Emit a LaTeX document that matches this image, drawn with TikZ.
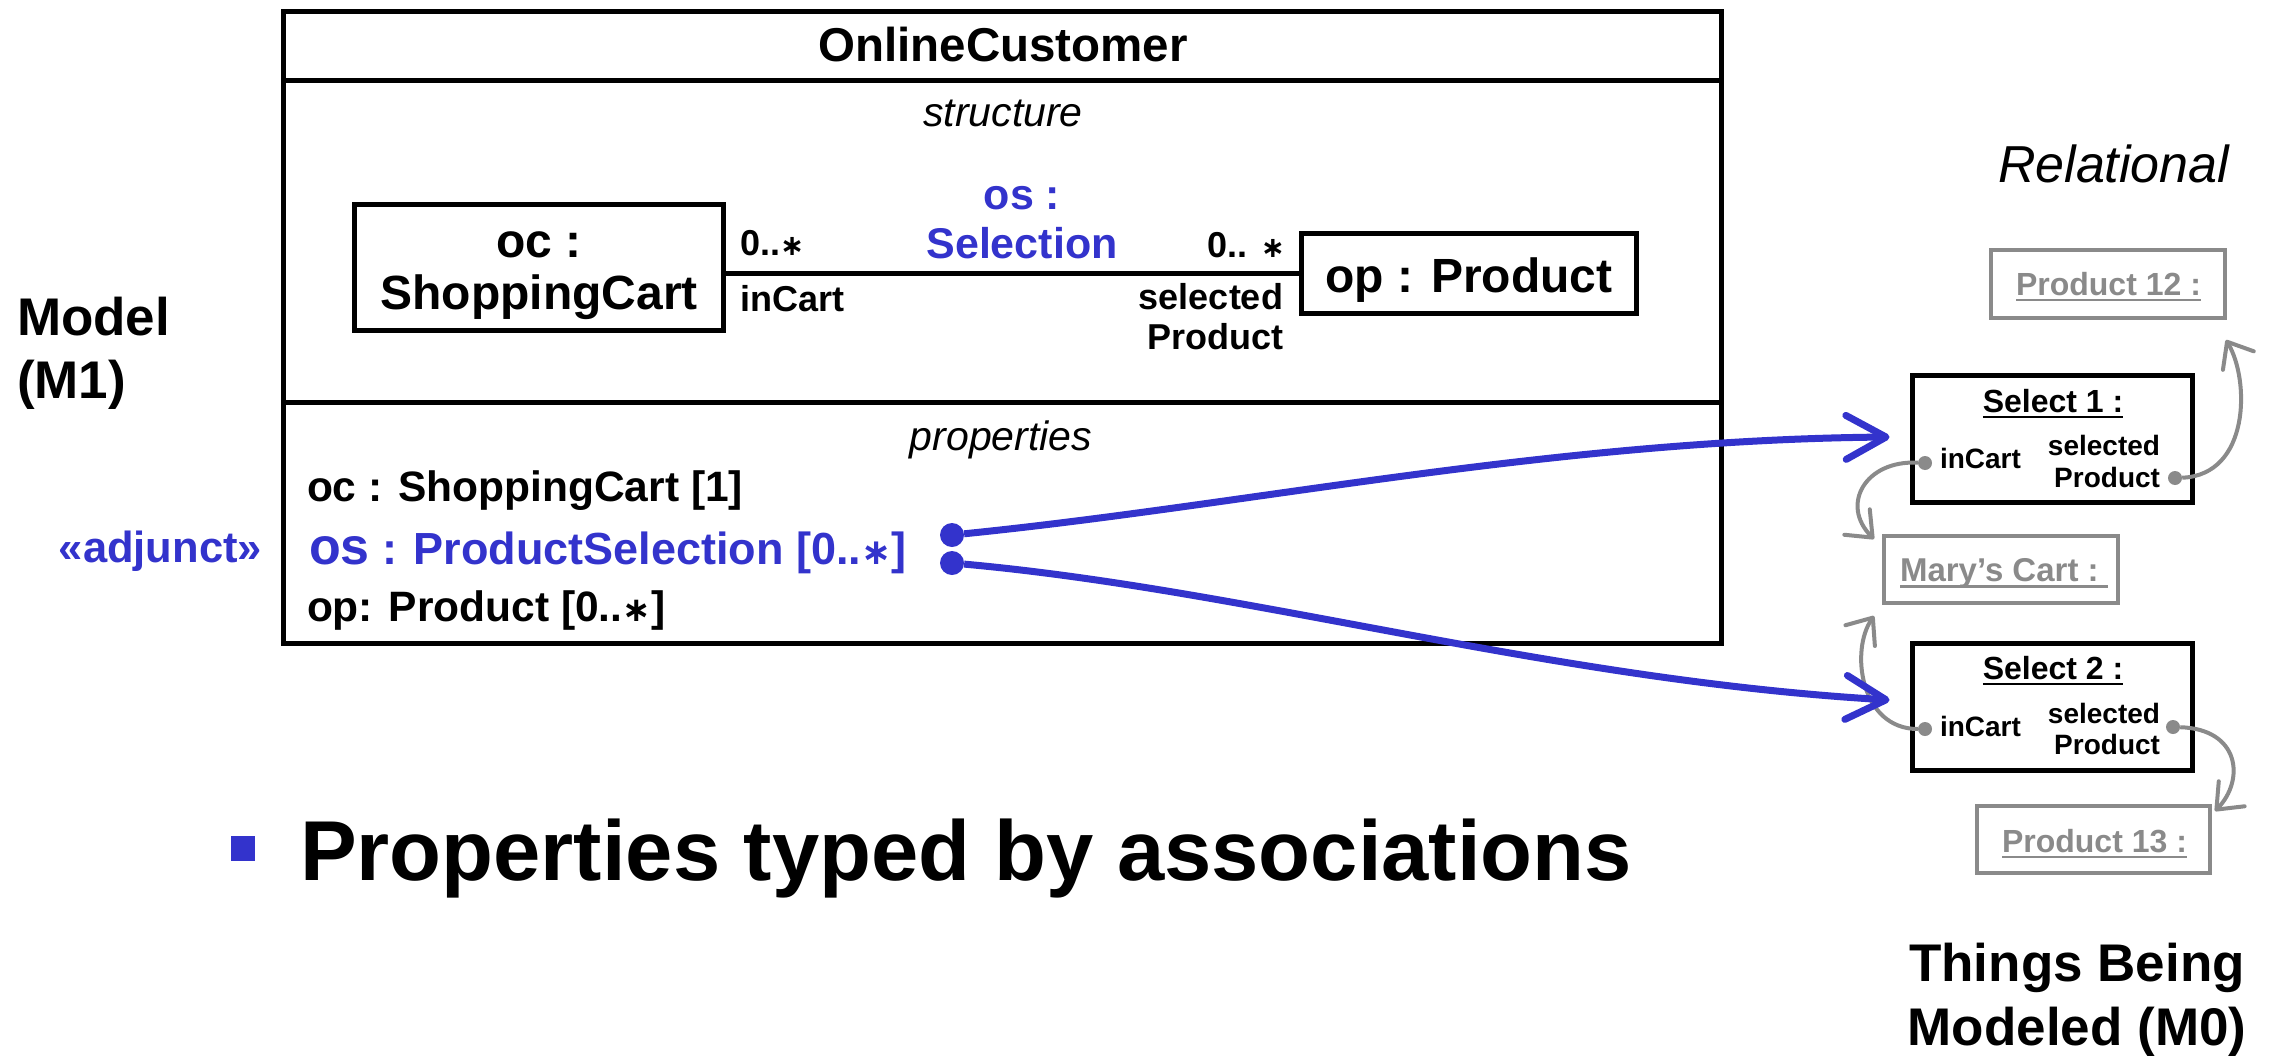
\documentclass[tikz,border=0pt]{standalone}
\usepackage{fontspec}
\setmainfont{Liberation Sans}
\newfontfamily\dejavu{DejaVu Sans}
\usetikzlibrary{arrows.meta,calc}
\definecolor{umlblue}{RGB}{51,51,204}
\definecolor{umlgray}{RGB}{138,138,138}
\newcommand\fsz[1]{\fontsize{#1}{#1}\selectfont}
\newsavebox\ulbox
\newcommand\myul[1]{\sbox\ulbox{#1}\rlap{\rule[-0.2em]{\wd\ulbox}{0.08em}}\usebox\ulbox}
\newcommand\mast{\scalebox{0.8}{\dejavu ∗}}
\begin{document}
\begin{tikzpicture}[x=1pt,y=-1pt,
  lbl/.style={inner sep=0pt, outer sep=0pt},
  blk/.style={draw, line width=5pt, inner sep=0pt, outer sep=0pt},
  gbox/.style={draw=umlgray, line width=4pt, inner sep=0pt, outer sep=0pt},
  bdot/.style={circle, fill=umlblue, minimum size=24pt, inner sep=0pt},
  gdot/.style={circle, fill=umlgray, minimum size=14pt, inner sep=0pt},
  barrow/.style={line width=7pt, umlblue, -{Straight Barb[length=40pt,width=44pt,round]}},
  garrow/.style={line width=4pt, umlgray, -{Straight Barb[length=22pt,width=36pt,round]}},
]
\useasboundingbox (0,0) rectangle (2272,1060);

% ---------- main classifier ----------
\node[blk, minimum width=1438pt, minimum height=632pt] (main) at (1002.5,327.5) {};
\draw[line width=5pt] (main.west |- 0,80) -- (main.east |- 0,80);
\draw[line width=5pt] (main.west |- 0,402) -- (main.east |- 0,402);
\node[lbl, anchor=base, font=\fsz{47.5}\bfseries] (title) at (1003,61) {OnlineCustomer};
\node[lbl, anchor=base, font=\fsz{41}\itshape] (struct) at (1003,126) {structure};

% structure parts
\node[blk, minimum width=369pt, minimum height=126pt] (oc) at (539,267.5) {};
\node[lbl, anchor=base, font=\fsz{48}\bfseries] (octxt1) at (539,257) {oc :};
\node[lbl, anchor=base, font=\fsz{48}\bfseries] (octxt2) at (539,309) {ShoppingCart};
\node[blk, minimum width=335pt, minimum height=80pt] (op) at (1469,273.5) {};
\node[lbl, anchor=base, font=\fsz{48}\bfseries] (optxt) at (1469,292) {op : Product};
\draw[line width=5pt] (oc.east |- op.west) -- (op.west);
\node[lbl, anchor=base west, font=\fsz{36}\bfseries] (m1) at (740,255) {0..\mast};
\node[lbl, anchor=base west, font=\fsz{36}\bfseries] (r1) at (740,311) {inCart};
\node[lbl, anchor=base, font=\fsz{43}\bfseries, text=umlblue] (os1) at (1022,209) {os :};
\node[lbl, anchor=base, font=\fsz{43}\bfseries, text=umlblue] (os2) at (1022,258) {Selection};
\node[lbl, anchor=base east, font=\fsz{36}\bfseries] (m2) at (1285,257) {0.. \mast};
\node[lbl, anchor=base east, font=\fsz{36}\bfseries] (r2a) at (1283,309) {selected};
\node[lbl, anchor=base east, font=\fsz{36}\bfseries] (r2b) at (1283,349) {Product};

% properties
\node[lbl, anchor=base, font=\fsz{41}\itshape] (props) at (1001,450) {properties};
\node[lbl, anchor=base west, font=\fsz{42.5}\bfseries] (p1) at (307,501) {oc : ShoppingCart [1]};
\node[lbl, anchor=base west, font=\bfseries, text=umlblue] (p2) at (309,564) {{\fsz{52}os}{\fsz{45} : ProductSelection [0..\mast]}};
\node[lbl, anchor=base west, font=\fsz{42.5}\bfseries] (p3) at (307,621) {op: Product [0..\mast]};
\node[lbl, anchor=base east, font=\fsz{43.5}\bfseries, text=umlblue] (adj) at (262,562) {«adjunct»};
\node[bdot] (d1) at (952,535) {};
\node[bdot] (d2) at (952,563) {};

% left labels
\node[lbl, anchor=base west, font=\fsz{53}\bfseries] (model1) at (17,335) {Model};
\node[lbl, anchor=base west, font=\fsz{53}\bfseries] (model2) at (17,398) {(M1)};

% bullet
\node[fill=umlblue, minimum width=24pt, minimum height=25pt, inner sep=0pt] (bullet) at (243,848) {};
\node[lbl, anchor=base west, font=\fsz{85}\bfseries] (bullettxt) at (300,880) {Properties typed by associations};

% ---------- instances ----------
\node[lbl, anchor=base west, font=\fsz{52}\itshape] (rel) at (1998,182) {Relational};

\node[gbox, minimum width=234pt, minimum height=68pt] (p12) at (2108,284) {};
\node[lbl, anchor=base west, font=\fsz{32}\bfseries, text=umlgray] (p12t) at (2016,295) {\myul{Product 12 :}};

\node[blk, minimum width=280pt, minimum height=127pt] (sel1) at (2052.5,439) {};
\node[lbl, anchor=base, font=\fsz{32}\bfseries] (sel1t) at (2053,412) {\myul{Select 1 :}};
\node[lbl, anchor=base west, font=\fsz{28}\bfseries] (sel1a) at (1940,468) {inCart};
\node[lbl, anchor=base east, font=\fsz{28}\bfseries] (sel1b) at (2160,455) {selected};
\node[lbl, anchor=base east, font=\fsz{28}\bfseries] (sel1c) at (2160,487) {Product};
\node[gdot] (s1l) at (1925,463) {};
\node[gdot] (s1r) at (2175,478) {};

\node[gbox, minimum width=234pt, minimum height=67pt] (mary) at (2001,569.5) {};
\node[lbl, anchor=base west, font=\fsz{33}\bfseries, text=umlgray] (maryt) at (1900,581) {\myul{Mary’s Cart :\ }};

\node[blk, minimum width=280pt, minimum height=127pt] (sel2) at (2052.5,707) {};
\node[lbl, anchor=base, font=\fsz{32}\bfseries] (sel2t) at (2053,679) {\myul{Select 2 :}};
\node[lbl, anchor=base west, font=\fsz{28}\bfseries] (sel2a) at (1940,736) {inCart};
\node[lbl, anchor=base east, font=\fsz{28}\bfseries] (sel2b) at (2160,723) {selected};
\node[lbl, anchor=base east, font=\fsz{28}\bfseries] (sel2c) at (2160,754) {Product};
\node[gdot] (s2l) at (1925,729) {};
\node[gdot] (s2r) at (2173,727) {};

\node[gbox, minimum width=233pt, minimum height=67pt] (p13) at (2093.5,839.5) {};
\node[lbl, anchor=base west, font=\fsz{32}\bfseries, text=umlgray] (p13t) at (2002,852) {\myul{Product 13 :}};

\node[lbl, anchor=base, font=\fsz{53}\bfseries] (thing1) at (2077,981) {Things Being};
\node[lbl, anchor=base, font=\fsz{53}\bfseries] (thing2) at (2077,1045) {Modeled (M0)};

% ---------- connectors ----------
\draw[garrow] (s1r) .. controls (2250,475) and (2250,380) .. ($(p12.south east)+(1,22)$);
\draw[garrow] (s1l) .. controls (1865,460) and (1840,505) .. ($(mary.north west)+(-10,3)$);
\draw[garrow] (s2l) .. controls (1860,729) and (1850,650) .. ($(mary.south west)+(-10,13)$);
\draw[garrow] (s2r) .. controls (2240,729) and (2245,780) .. ($(p13.north east)+(5,5)$);

\draw[barrow] (d1) .. controls (1250,505) and (1550,440) .. ($(sel1.west)+(-23,-2)$);
\draw[barrow] (d2) .. controls (1250,590) and (1550,680) .. ($(sel2.west)+(-23,-7)$);
\end{tikzpicture}
\end{document}
